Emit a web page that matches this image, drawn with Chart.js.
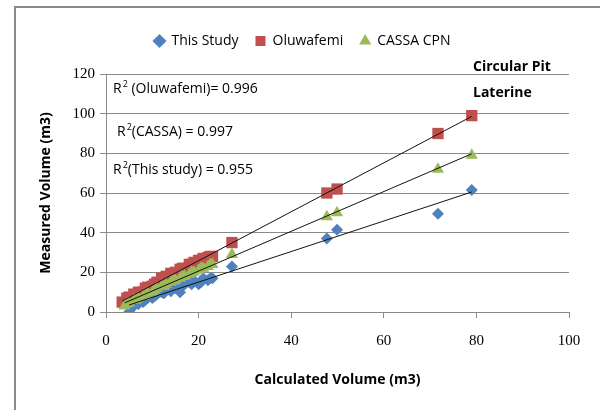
<!DOCTYPE html>
<html>
<head>
<meta charset="utf-8">
<script src="https://cdn.jsdelivr.net/npm/chart.js@4"></script>
<style>
  html, body { margin: 0; padding: 0; background: #fff; }
  #wrap { position: relative; width: 600px; height: 410px; }
  #frame { position: absolute; left: 14px; top: 6px; width: 600px; height: 420px; border: 2px solid #8a8a8a; box-sizing: border-box; }
  canvas { position: absolute; left: 0; top: 0; }
</style>
</head>
<body>
<div id="wrap">
  <div id="frame"></div>
  <canvas id="c" width="600" height="410"></canvas>
</div>
<script>
// ---- data ----
const thisStudyX = [5, 5.5, 6, 7, 8, 8.5, 9, 10, 10.5, 11, 12, 12.5, 13, 14, 14.5, 15, 16, 16.5, 17, 18, 18.5, 19, 20, 20.5, 21, 22, 22.5, 23, 27.2, 47.7, 49.9, 71.7, 79];
const thisStudyY = [0, 2, 3, 4, 5, 6, 7, 7, 8, 9, 10, 9.5, 11, 10.5, 12, 12, 10, 13, 14, 15, 14, 16, 14, 15, 17, 16, 17, 17, 23, 37, 41.5, 49.5, 61.5];

const oluwafemiX = [3.5, 4.5, 5, 6, 6.5, 7, 8, 8.5, 9, 10, 10.5, 11, 12, 12.5, 13, 14, 14.5, 15, 16, 16.5, 17, 18, 18.5, 19, 20, 20.5, 21, 22, 22.5, 23, 27.2, 47.7, 49.9, 71.7, 79];
const oluwafemiY = [5, 7, 7.5, 9, 8.5, 10, 10, 12, 12.5, 13, 14, 15, 17, 17, 18, 19.5, 19, 20, 21.5, 22, 22, 24, 24, 25, 26, 26, 27, 27.5, 28, 28, 35, 60, 62, 90, 99];

const cassaX = [4, 4.5, 5, 6, 6.5, 7, 8, 8.5, 9, 10, 10.5, 11, 12, 12.5, 13, 14, 14.5, 15, 16, 16.5, 17, 18, 18.5, 19, 20, 20.5, 21, 22, 22.5, 23, 27.2, 47.7, 49.9, 71.7, 79];
const cassaY = [3, 4, 4.5, 6, 6, 7, 8, 8.5, 9.5, 10, 11, 12, 13, 13, 14, 15, 16, 16, 17, 18, 18, 19, 20, 20, 21, 22, 22, 23, 24, 24, 29, 48, 50, 72, 79];

const seriesNames = ["This Study", "Oluwafemi", "CASSA CPN"];
const xTicks = [0, 20, 40, 60, 80, 100];
const yTicks = [0, 20, 40, 60, 80, 100, 120];
const rSquaredLabels = [
  { pre: "R", sup: "2", post: " (Oluwafemi)= 0.996" },
  { pre: "R", sup: "2", post: "(CASSA) = 0.997" },
  { pre: "R", sup: "2", post: "(This study) = 0.955" }
];
const noteLines = ["Circular Pit", "Laterine"];

// ---- helpers ----
function pts(xs, ys) { return xs.map((x, i) => ({ x: x, y: ys[i] })); }
function fitLine(xs, ys) {
  const n = xs.length;
  let sx = 0, sy = 0, sxx = 0, sxy = 0;
  for (let i = 0; i < n; i++) { sx += xs[i]; sy += ys[i]; sxx += xs[i] * xs[i]; sxy += xs[i] * ys[i]; }
  const m = (n * sxy - sx * sy) / (n * sxx - sx * sx);
  const b = (sy - m * sx) / n;
  const x0 = Math.min(...xs), x1 = Math.max(...xs);
  return [{ x: x0, y: m * x0 + b }, { x: x1, y: m * x1 + b }];
}

const BLUE = "#4F81BD", RED = "#C0504D", GREEN = "#9BBB59";
const labelFont = "'Open Sans', 'Noto Sans', sans-serif";

const trendStyle = { type: 'line', showLine: true, borderColor: '#111', borderWidth: 1, pointRadius: 0, fill: false, order: 0, isTrend: true };

// add space below the legend
const legendSpacer = {
  id: 'legendSpacer',
  beforeInit(chart) {
    const lg = chart.legend;
    if (!lg) return;
    const fit = lg.fit;
    lg.fit = function () { fit.call(lg); lg.height += 16; };
  }
};

const textPlugin = {
  id: 'texts',
  afterDraw(chart) {
    const ctx = chart.ctx;
    ctx.save();
    ctx.fillStyle = '#000';
    ctx.textBaseline = 'middle';
    const pos = [[113, 89], [117, 132], [113, 170]];
    rSquaredLabels.forEach((l, i) => {
      let [x, y] = pos[i];
      ctx.font = "14px " + labelFont;
      ctx.fillText(l.pre, x, y);
      x += ctx.measureText(l.pre).width + 1;
      ctx.font = "9px " + labelFont;
      ctx.fillText(l.sup, x, y - 5);
      x += ctx.measureText(l.sup).width;
      ctx.font = "14px " + labelFont;
      ctx.fillText(l.post, x, y);
    });
    ctx.font = "bold 14px " + labelFont;
    ctx.fillText(noteLines[0], 473, 67);
    ctx.fillText(noteLines[1], 473, 93);
    ctx.restore();
  }
};

new Chart(document.getElementById('c'), {
  type: 'scatter',
  data: {
    datasets: [
      { label: seriesNames[0], data: pts(thisStudyX, thisStudyY), pointStyle: 'rectRot', pointRadius: 6, pointHoverRadius: 6, backgroundColor: BLUE, borderColor: BLUE, borderWidth: 0, order: 3 },
      { label: seriesNames[1], data: pts(oluwafemiX, oluwafemiY), pointStyle: 'rect', pointRadius: 8, pointHoverRadius: 8, backgroundColor: RED, borderColor: RED, borderWidth: 0, order: 2 },
      { label: seriesNames[2], data: pts(cassaX, cassaY), pointStyle: 'triangle', pointRadius: 7, pointHoverRadius: 7, backgroundColor: GREEN, borderColor: GREEN, borderWidth: 0, order: 1 },
      Object.assign({ label: 'trend1', data: fitLine(thisStudyX, thisStudyY) }, trendStyle),
      Object.assign({ label: 'trend2', data: fitLine(oluwafemiX, oluwafemiY) }, trendStyle),
      Object.assign({ label: 'trend3', data: fitLine(cassaX, cassaY) }, trendStyle)
    ]
  },
  options: {
    responsive: false,
    animation: false,
    layout: { padding: { top: 17, right: 31, left: 36, bottom: 0 } },
    plugins: {
      tooltip: { enabled: false },
      legend: {
        position: 'top',
        labels: {
          usePointStyle: true,
          boxWidth: 10, boxHeight: 10,
          padding: 17,
          color: '#000',
          font: { family: labelFont, size: 14 },
          filter: (item, data) => !data.datasets[item.datasetIndex].isTrend,
          sort: (a, b) => a.datasetIndex - b.datasetIndex
        }
      }
    },
    scales: {
      x: {
        type: 'linear', min: 0, max: 100,
        afterBuildTicks: (s) => { s.ticks = xTicks.map(v => ({ value: v })); },
        afterFit: (s) => { s.height = 98; },
        grid: { drawOnChartArea: false, drawTicks: true, tickLength: 6, color: '#8a8a8a' },
        border: { color: '#8a8a8a', width: 1 },
        ticks: { color: '#000', font: { family: "'Liberation Serif', serif", size: 15 }, padding: 14 },
        title: { display: true, text: 'Calculated Volume (m3)', color: '#000', font: { family: labelFont, size: 14, weight: 'bold' }, padding: { top: 4, bottom: 22 } }
      },
      y: {
        type: 'linear', min: 0, max: 120,
        afterBuildTicks: (s) => { s.ticks = yTicks.map(v => ({ value: v })); },
        afterFit: (s) => { s.width = 70; },
        grid: { drawOnChartArea: true, drawTicks: true, tickLength: 6, color: '#8a8a8a' },
        border: { color: '#8a8a8a', width: 1 },
        ticks: { color: '#000', font: { family: "'Liberation Serif', serif", size: 15 }, padding: 5 },
        title: { display: true, text: 'Measured Volume (m3)', color: '#000', font: { family: labelFont, size: 14, weight: 'bold' }, padding: { top: 2, bottom: 2 } }
      }
    }
  },
  plugins: [legendSpacer, textPlugin]
});
</script>
</body>
</html>
